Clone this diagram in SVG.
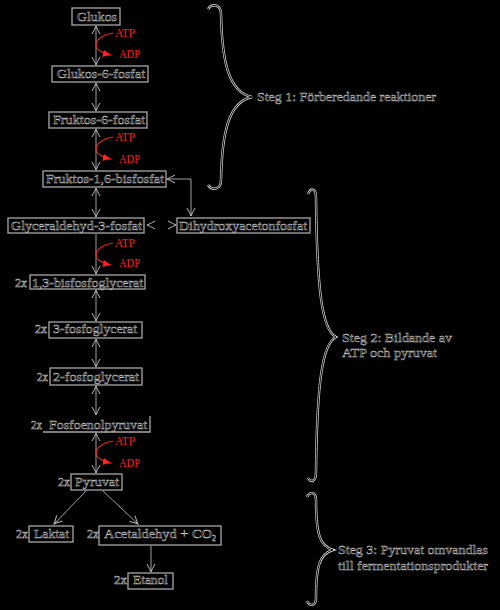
<svg xmlns="http://www.w3.org/2000/svg" width="500" height="610" viewBox="0 0 500 610">
<defs>
<style>
.t{font-family:"Liberation Serif","DejaVu Serif",serif;font-size:13.5px;fill:#000;stroke:#c8c8c8;stroke-width:0.45px}
.s{font-size:12px}
.r{font-family:"Liberation Serif","DejaVu Serif",serif;font-size:12px;fill:#ff2020}
.box{fill:none;stroke:#a8a8a8;stroke-width:1.3}
.ln{fill:none;stroke:#a0a0a0;stroke-width:1}
.red{fill:none;stroke:#ff2020;stroke-width:1.2}
.br1{fill:none;stroke:#d8d8d8;stroke-width:2.4}
.br2{fill:none;stroke:#000;stroke-width:1}
</style>
<marker id="oa" viewBox="-10 -6 12 12" markerWidth="12" markerHeight="12" refX="0" refY="0" orient="auto-start-reverse" markerUnits="userSpaceOnUse">
<path d="M-8,-4 Q-3,-1.2 0,0 Q-3,1.2 -8,4" fill="none" stroke="#b8b8b8" stroke-width="1"/>
</marker>
<marker id="ra" viewBox="-9 -5 10 10" markerWidth="10" markerHeight="10" refX="0" refY="0" orient="auto" markerUnits="userSpaceOnUse">
<path d="M-8,-3.5 L0,0 L-8,3.5 z" fill="#ff2020"/>
</marker>
<g id="redpair">
<path class="red" d="M113,33 C101,35 95,41 96,46 C97,51 106,54 111,55" marker-end="url(#ra)"/>
</g>
</defs>
<rect x="0" y="0" width="500" height="610" fill="#000"/>

<g id="connectors">
<line class="ln" x1="96" y1="26" x2="96" y2="65" marker-start="url(#oa)" marker-end="url(#oa)"/>
<line class="ln" x1="96" y1="83" x2="96" y2="111" marker-start="url(#oa)" marker-end="url(#oa)"/>
<line class="ln" x1="96" y1="129" x2="96" y2="170" marker-start="url(#oa)" marker-end="url(#oa)"/>
<line class="ln" x1="96" y1="188" x2="96" y2="217" marker-start="url(#oa)" marker-end="url(#oa)"/>
<line class="ln" x1="96" y1="234" x2="96" y2="274" marker-end="url(#oa)"/>
<line class="ln" x1="96" y1="290" x2="96" y2="321" marker-start="url(#oa)" marker-end="url(#oa)"/>
<line class="ln" x1="96" y1="339" x2="96" y2="367" marker-start="url(#oa)" marker-end="url(#oa)"/>
<line class="ln" x1="96" y1="386" x2="96" y2="415" marker-start="url(#oa)" marker-end="url(#oa)"/>
<line class="ln" x1="96" y1="433" x2="96" y2="473" marker-start="url(#oa)" marker-end="url(#oa)"/>
<path class="ln" d="M167,179 L191,179 L191,216" marker-start="url(#oa)" marker-end="url(#oa)"/>
<path d="M153,225 L147,225" fill="none" stroke="#000" stroke-width="1" marker-end="url(#oa)"/>
<path d="M169,225 L176,225" fill="none" stroke="#000" stroke-width="1" marker-end="url(#oa)"/>
<line class="ln" x1="86" y1="491" x2="54" y2="524" marker-end="url(#oa)"/>
<line class="ln" x1="103" y1="491" x2="138" y2="524" marker-end="url(#oa)"/>
<line class="ln" x1="151" y1="546" x2="151" y2="572" marker-end="url(#oa)"/>
<use href="#redpair"/>
<use href="#redpair" transform="translate(0,104)"/>
<use href="#redpair" transform="translate(0,210)"/>
<use href="#redpair" transform="translate(0,408)"/>
</g>

<g id="red-labels">
<text class="r" x="115" y="37" textLength="20" lengthAdjust="spacingAndGlyphs">ATP</text>
<text class="r" x="119" y="58" textLength="21" lengthAdjust="spacingAndGlyphs">ADP</text>
<text class="r" x="115" y="141" textLength="20" lengthAdjust="spacingAndGlyphs">ATP</text>
<text class="r" x="119" y="163" textLength="21" lengthAdjust="spacingAndGlyphs">ADP</text>
<text class="r" x="115" y="247" textLength="20" lengthAdjust="spacingAndGlyphs">ATP</text>
<text class="r" x="119" y="267" textLength="21" lengthAdjust="spacingAndGlyphs">ADP</text>
<text class="r" x="115" y="445" textLength="20" lengthAdjust="spacingAndGlyphs">ATP</text>
<text class="r" x="119" y="467" textLength="21" lengthAdjust="spacingAndGlyphs">ADP</text>
</g>

<g id="glukos">
<rect class="box" x="72" y="8" width="48" height="17"/>
<text class="t" x="77" y="21" textLength="40" lengthAdjust="spacingAndGlyphs">Glukos</text>
</g>
<g id="glukos-6-fosfat">
<rect class="box" x="52" y="66" width="96" height="16"/>
<text class="t" x="57" y="78" textLength="88" lengthAdjust="spacingAndGlyphs">Glukos-6-fosfat</text>
</g>
<g id="fruktos-6-fosfat">
<rect class="box" x="49" y="112" width="98" height="16"/>
<text class="t" x="53" y="124" textLength="92" lengthAdjust="spacingAndGlyphs">Fruktos-6-fosfat</text>
</g>
<g id="fruktos-1-6-bisfosfat">
<rect class="box" x="43" y="171" width="123" height="16"/>
<text class="t" x="46" y="183" textLength="118" lengthAdjust="spacingAndGlyphs">Fruktos-1,6-bisfosfat</text>
</g>
<g id="glyceraldehyd-3-fosfat">
<rect class="box" x="8" y="218" width="136" height="15"/>
<text class="t" x="11" y="230" textLength="131" lengthAdjust="spacingAndGlyphs">Glyceraldehyd-3-fosfat</text>
</g>
<g id="dihydroxyacetonfosfat">
<rect class="box" x="177" y="218" width="133" height="15"/>
<text class="t" x="179" y="230" textLength="128" lengthAdjust="spacingAndGlyphs">Dihydroxyacetonfosfat</text>
</g>
<g id="bisfosfoglycerat">
<text class="t s" x="15" y="287" textLength="12" lengthAdjust="spacingAndGlyphs">2x</text>
<rect class="box" x="30" y="275" width="115" height="14"/>
<text class="t" x="32" y="287" textLength="111" lengthAdjust="spacingAndGlyphs">1,3-bisfosfoglycerat</text>
</g>
<g id="fosfoglycerat-3">
<text class="t s" x="35" y="333" textLength="12" lengthAdjust="spacingAndGlyphs">2x</text>
<rect class="box" x="49" y="322" width="93" height="16"/>
<text class="t" x="53" y="333" textLength="84" lengthAdjust="spacingAndGlyphs">3-fosfoglycerat</text>
</g>
<g id="fosfoglycerat-2">
<text class="t s" x="37" y="381" textLength="11" lengthAdjust="spacingAndGlyphs">2x</text>
<rect class="box" x="50" y="368" width="92" height="17"/>
<text class="t" x="53" y="381" textLength="86" lengthAdjust="spacingAndGlyphs">2-fosfoglycerat</text>
</g>
<g id="fosfoenolpyruvat">
<text class="t s" x="31" y="429" textLength="11" lengthAdjust="spacingAndGlyphs">2x</text>
<path class="box" d="M43,432 L150,432 L150,416"/>
<text class="t" x="49" y="429" textLength="98" lengthAdjust="spacingAndGlyphs">Fosfoenolpyruvat</text>
</g>
<g id="pyruvat">
<text class="t s" x="58" y="486" textLength="12" lengthAdjust="spacingAndGlyphs">2x</text>
<rect class="box" x="71" y="474" width="51" height="16"/>
<text class="t" x="75" y="486" textLength="44" lengthAdjust="spacingAndGlyphs">Pyruvat</text>
</g>
<g id="laktat">
<text class="t s" x="16" y="538" textLength="12" lengthAdjust="spacingAndGlyphs">2x</text>
<rect class="box" x="29" y="526" width="44" height="16"/>
<text class="t" x="34" y="538" textLength="35" lengthAdjust="spacingAndGlyphs">Laktat</text>
</g>
<g id="acetaldehyd">
<text class="t s" x="87" y="538" textLength="12" lengthAdjust="spacingAndGlyphs">2x</text>
<rect class="box" x="99" y="526" width="122" height="19"/>
<text class="t" x="104" y="538" textLength="108" lengthAdjust="spacingAndGlyphs">Acetaldehyd + CO</text>
<text class="t" x="212" y="541" style="font-size:8px">2</text>
</g>
<g id="etanol">
<text class="t s" x="114" y="584" textLength="13" lengthAdjust="spacingAndGlyphs">2x</text>
<rect class="box" x="128" y="573" width="45" height="16"/>
<text class="t" x="133" y="584" textLength="35" lengthAdjust="spacingAndGlyphs">Etanol</text>
</g>

<g id="steg1">
<path class="br1" d="M208,9 C212,3 221,4 221,14 C222,60 228,92 252,97 C228,102 222,134 221,180 C221,190 212,191 208,185"/>
<path class="br2" d="M208,9 C212,3 221,4 221,14 C222,60 228,92 252,97 C228,102 222,134 221,180 C221,190 212,191 208,185"/>
<text class="t" x="257" y="101" textLength="179" lengthAdjust="spacingAndGlyphs">Steg 1: Förberedande reaktioner</text>
</g>
<g id="steg2">
<path class="br1" d="M308,194 C311,187 316,188 316,198 C317,290 322,330 336,337 C322,344 317,384 316,472 C316,482 311,483 308,478"/>
<path class="br2" d="M308,194 C311,187 316,188 316,198 C317,290 322,330 336,337 C322,344 317,384 316,472 C316,482 311,483 308,478"/>
<text class="t" x="342" y="342" textLength="110" lengthAdjust="spacingAndGlyphs">Steg 2: Bildande av</text>
<text class="t" x="342" y="357" textLength="95" lengthAdjust="spacingAndGlyphs">ATP och pyruvat</text>
</g>
<g id="steg3">
<path class="br1" d="M307,497 C310,491 316,492 316,500 C316,535 320,546 333,550 C320,554 316,565 316,598 C316,606 310,607 307,601"/>
<path class="br2" d="M307,497 C310,491 316,492 316,500 C316,535 320,546 333,550 C320,554 316,565 316,598 C316,606 310,607 307,601"/>
<text class="t" x="338" y="554" textLength="150" lengthAdjust="spacingAndGlyphs">Steg 3: Pyruvat omvandlas</text>
<text class="t" x="338" y="570" textLength="150" lengthAdjust="spacingAndGlyphs">till fermentationsprodukter</text>
</g>
</svg>
